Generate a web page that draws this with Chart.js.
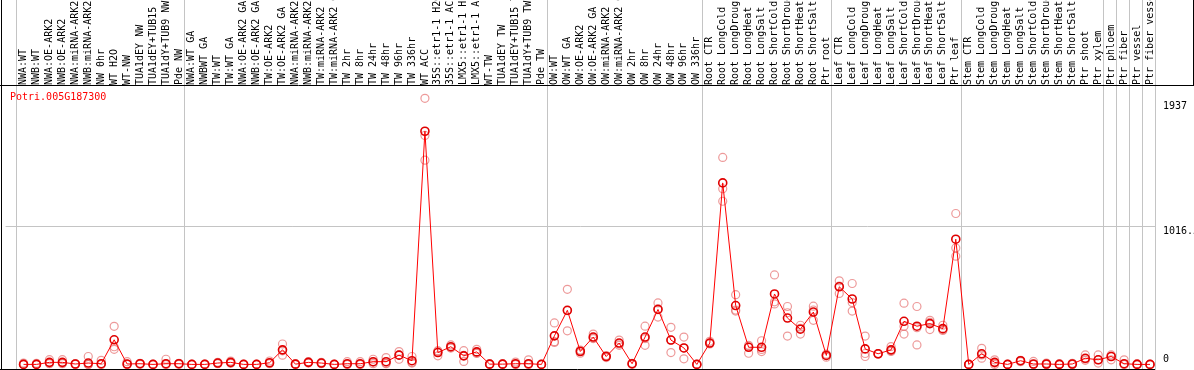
<!DOCTYPE html>
<html>
<head>
<meta charset="utf-8">
<script src="https://cdn.jsdelivr.net/npm/chart.js@4/dist/chart.umd.min.js"></script>
<style>
  html, body { margin: 0; padding: 0; background: #fff; }
  #wrap { width: 1194px; height: 370px; }
</style>
</head>
<body>
<div id="wrap"><canvas id="grafico" width="1194" height="370"></canvas></div>
<script>
const geneName = 'Potri.005G187300';

const categories = [
  'NWA:WT', 'NWB:WT', 'NWA:OE-ARK2', 'NWB:OE-ARK2', 'NWA:miRNA-ARK2', 'NWB:miRNA-ARK2',
  'NW 0hr', 'WT H2O', 'WT-NW', 'TUA1dEY NW', 'TUA1dEY+TUB15 NW', 'TUA1dY+TUB9 NW', 'Pde NW',
  'NWA:WT GA', 'NWBWT GA', 'TW:WT', 'TW:WT GA', 'NWA:OE-ARK2 GA', 'NWB:OE-ARK2 GA',
  'TW:OE-ARK2', 'TW:OE-ARK2 GA', 'NWA:miRNA-ARK2 GA', 'NWB:miRNA-ARK2 GA', 'TW:miRNA-ARK2',
  'TW:miRNA-ARK2 GA', 'TW 2hr', 'TW 8hr', 'TW 24hr', 'TW 48hr', 'TW 96hr', 'TW 336hr',
  'WT ACC', '35S::etr1-1 H2O', '35S::etr1-1 ACC', 'LMX5::etr1-1 H2O', 'LMX5::etr1-1 ACC',
  'WT-TW', 'TUA1dEY TW', 'TUA1dEY+TUB15 TW', 'TUA1dY+TUB9 TW', 'Pde TW',
  'OW:WT', 'OW:WT GA', 'OW:OE-ARK2', 'OW:OE-ARK2 GA', 'OW:miRNA-ARK2', 'OW:miRNA-ARK2 GA',
  'OW 2hr', 'OW 8hr', 'OW 24hr', 'OW 48hr', 'OW 96hr', 'OW 336hr',
  'Root CTR', 'Root LongCold', 'Root LongDrought', 'Root LongHeat', 'Root LongSalt',
  'Root ShortCold', 'Root ShortDrought', 'Root ShortHeat', 'Root ShortSalt', 'Ptr root',
  'Leaf CTR', 'Leaf LongCold', 'Leaf LongDrought', 'Leaf LongHeat', 'Leaf LongSalt',
  'Leaf ShortCold', 'Leaf ShortDrought', 'Leaf ShortHeat', 'Leaf ShortSalt', 'Ptr leaf',
  'Stem CTR', 'Stem LongCold', 'Stem LongDrought', 'Stem LongHeat', 'Stem LongSalt',
  'Stem ShortCold', 'Stem ShortDrought', 'Stem ShortHeat', 'Stem ShortSalt',
  'Ptr shoot', 'Ptr xylem', 'Ptr phloem', 'Ptr fiber', 'Ptr vessel', 'Ptr fiber vessel'
];

// media de las réplicas
const meanValues = [
  0, 0, 15, 15, 3, 10, 5, 181, 3, 5, 0, 5, 5,
  0, 0, 10, 15, 0, 0, 12, 107, 2, 15, 10, 0, 5, 5, 20, 20, 68, 27,
  1715, 87, 130, 63, 92, 2, 2, 5, 5, 0,
  210, 398, 95, 201, 58, 157, 5, 201, 404, 179, 121, 0,
  157, 1335, 433, 126, 126, 518, 341, 259, 385, 66,
  571, 481, 114, 78, 107, 317, 281, 300, 263, 921,
  0, 78, 15, 0, 27, 3, 3, 0, 3,
  45, 34, 58, 5, 0, 0
];

// réplicas individuales
const rep1 = [
  10, 8, 35, 35, 5, 58, 30, 280, 20, 8, 0, 38, 8,
  0, 3, 15, 25, 0, 0, 25, 150, 5, 20, 15, 0, 20, 20, 38, 50, 94, 58,
  1957, 101, 143, 101, 111, 5, 5, 17, 34, 0,
  305, 552, 82, 223, 65, 179, 8, 281, 452, 273, 201, 0,
  170, 1522, 513, 82, 174, 658, 426, 288, 428, 53,
  615, 595, 208, 78, 131, 450, 426, 324, 288, 1110,
  0, 118, 34, 0, 30, 22, 10, 5, 8,
  70, 70, 34, 34, 5, 0
];
const rep2 = [
  0, 0, 10, 10, 2, 0, 0, 130, 0, 5, 0, 0, 5,
  0, 0, 8, 12, 0, 0, 10, 68, 0, 15, 10, 0, 0, 0, 15, 10, 38, 15,
  1684, 63, 125, 22, 85, 0, 0, 0, 0, 0,
  162, 247, 100, 190, 50, 140, 3, 140, 348, 87, 41, 0,
  150, 1292, 392, 130, 94, 445, 208, 223, 324, 68,
  522, 392, 58, 80, 100, 223, 143, 256, 250, 856,
  0, 46, 10, 0, 20, 0, 0, 0, 0,
  40, 10, 58, 0, 0, 0
];
const rep3 = [
  0, 0, 5, 5, 0, 0, 0, 111, 0, 0, 0, 0, 0,
  0, 0, 5, 8, 0, 0, 5, 100, 0, 10, 5, 0, 0, 0, 5, 5, 70, 10,
  1502, 95, 120, 66, 80, 0, 0, 0, 0, 0,
  167, 395, 105, 195, 58, 150, 0, 190, 410, 178, 120, 0,
  155, 1200, 400, 140, 110, 460, 380, 265, 400, 75,
  575, 455, 80, 75, 95, 280, 270, 310, 255, 796,
  0, 70, 0, 0, 25, 0, 0, 0, 0,
  30, 34, 70, 0, 0, 0
];

const yTickValues = [0, 1016.5, 1937];
const yTickLabels = ['0', '1016.5', '1937'];
const yMax = 2033;

// límites de grupo: índice de la primera categoría de cada bloque
const groupStarts = [0, 13, 41, 53, 63, 73, 84, 85, 86, 87, 88];

const MONO = '"DejaVu Sans Mono", "Liberation Mono", monospace';

const toPoints = (arr) => arr.map((v, i) => ({ x: i, y: v }));

const repStyle = {
  showLine: false,
  pointRadius: 4,
  pointBorderWidth: 1.2,
  pointBorderColor: 'rgba(228, 100, 100, 0.65)',
  pointBackgroundColor: 'rgba(0,0,0,0)',
  order: 2,
  clip: false
};

const marcoPlugin = {
  id: 'marco',
  beforeDraw(chart) {
    const { ctx, scales: { x } } = chart;
    ctx.save();
    ctx.strokeStyle = '#c4c4c4';
    ctx.lineWidth = 1;
    groupStarts.forEach((g) => {
      const px = Math.round(x.getPixelForValue(g - 0.6)) + 0.5;
      ctx.beginPath();
      ctx.moveTo(px, 0);
      ctx.lineTo(px, chart.height);
      ctx.stroke();
    });
    ctx.restore();
  },
  afterDraw(chart) {
    const { ctx, chartArea: a, scales: { y } } = chart;
    ctx.save();
    ctx.strokeStyle = '#000';
    ctx.lineWidth = 1;
    ctx.beginPath();
    ctx.moveTo(1.5, 0); ctx.lineTo(1.5, chart.height);
    ctx.moveTo(0, 85.5); ctx.lineTo(chart.width, 85.5);
    ctx.moveTo(chart.width - 0.5, 0); ctx.lineTo(chart.width - 0.5, 85.5);
    ctx.moveTo(0, 369.5); ctx.lineTo(a.right, 369.5);
    ctx.stroke();

    ctx.font = '10px ' + MONO;
    ctx.fillStyle = '#ff0000';
    ctx.textAlign = 'left';
    ctx.textBaseline = 'top';
    ctx.fillText(geneName, 10, 92);

    ctx.fillStyle = '#000';
    yTickValues.forEach((v, i) => {
      const py = y.getPixelForValue(v);
      ctx.textBaseline = v === 0 ? 'bottom' : 'top';
      ctx.fillText(yTickLabels[i], a.right + 8, py);
    });
    ctx.restore();
  }
};

new Chart(document.getElementById('grafico').getContext('2d'), {
  type: 'line',
  data: {
    datasets: [
      {
        label: 'media',
        data: toPoints(meanValues),
        borderColor: '#ff0000',
        borderWidth: 1,
        pointRadius: 4,
        pointBorderWidth: 1.6,
        pointBorderColor: '#e00000',
        pointBackgroundColor: 'rgba(0,0,0,0)',
        tension: 0,
        order: 1,
        clip: false
      },
      Object.assign({ label: 'r1', data: toPoints(rep1) }, repStyle),
      Object.assign({ label: 'r2', data: toPoints(rep2) }, repStyle),
      Object.assign({ label: 'r3', data: toPoints(rep3) }, repStyle)
    ]
  },
  options: {
    responsive: false,
    animation: false,
    events: [],
    layout: { padding: { left: 1, right: 0, top: 0, bottom: 2 } },
    plugins: { legend: { display: false }, tooltip: { enabled: false } },
    scales: {
      x: {
        type: 'linear',
        position: 'top',
        min: -1.385,
        max: 87.385,
        afterBuildTicks: (s) => { s.ticks = categories.map((c, i) => ({ value: i })); },
        afterFit: (s) => { s.height = 88; s.paddingLeft = 0; s.paddingRight = 0; },
        grid: { display: false },
        border: { display: false },
        ticks: {
          autoSkip: false,
          maxRotation: 90,
          minRotation: 90,
          padding: -5,
          labelOffset: 12,
          color: '#000',
          font: { family: MONO, size: 10 },
          callback: (v) => categories[v]
        }
      },
      y: {
        position: 'right',
        min: 0,
        max: yMax,
        afterBuildTicks: (s) => { s.ticks = yTickValues.map((v) => ({ value: v })); },
        afterFit: (s) => { s.width = 39; },
        border: { display: false },
        grid: {
          drawTicks: false,
          color: (c) => (c.tick && c.tick.value === 1016.5 ? '#c4c4c4' : 'rgba(0,0,0,0)')
        },
        ticks: { display: false }
      }
    }
  },
  plugins: [marcoPlugin]
});
</script>
</body>
</html>
